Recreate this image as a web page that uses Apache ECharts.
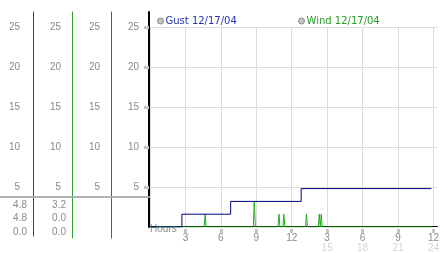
<!DOCTYPE html>
<html><head><meta charset="utf-8">
<script src="https://cdn.jsdelivr.net/npm/echarts@6/dist/echarts.min.js"></script>
<style>html,body{margin:0;padding:0;background:#fff}#c{width:442px;height:253px}</style>
</head><body><div id="c"></div>
<script>
// ---- data ----
const yTicks = [5, 10, 15, 20, 25];
const tickHours = [3, 6, 9, 12, 15, 18, 21, 24];
const tickTop = ['3', '6', '9', '12', '3', '6', '9', '12'];
const tickBottom = ['', '', '', '', '15', '18', '21', '24'];
const gustName = 'Gust 12/17/04';
const windName = 'Wind 12/17/04';
const gustData = [[0, 0], [2.7, 1.6], [6.83, 3.2], [12.8, 4.8], [23.83, 4.8]];
const windData = [[0, 0], [4.58, 0], [4.67, 1.6], [4.75, 0], [8.75, 0], [8.83, 3.2], [8.92, 0],
  [10.83, 0], [10.92, 1.6], [11.0, 0], [11.25, 0], [11.33, 1.6], [11.42, 0],
  [13.17, 0], [13.25, 1.6], [13.33, 0], [14.25, 0], [14.33, 1.6], [14.42, 0], [14.5, 1.6], [14.58, 0],
  [23.83, 0]];
const gustStats = [4.8, 4.8, 0.0];
const windStats = [3.2, 0.0, 0.0];

// ---- layout ----
const LAB = '#8a8a8a';
const FONT = 'Liberation Sans';
const zeroY = 227, pxPerUnit = 8, colTop = 12;
const cols = [
  { x: 33, bottom: 236, color: '#1c3cc0', margin: 13, w: 1 },
  { x: 72, bottom: 238, color: '#2ea02e', margin: 11, w: 1 },
  { x: 111, bottom: 238, color: '#c42a2a', margin: 11, w: 1 },
  { x: 149, bottom: 227, color: '#000000', margin: 10, w: 2 }
];
const grids = [], xAxes = [], yAxes = [];
cols.forEach((c, i) => {
  grids.push({ left: c.x, top: colTop, width: 1, height: c.bottom - colTop });
  xAxes.push({ gridIndex: i, type: 'value', show: false, min: 0, max: 1 });
  yAxes.push({
    gridIndex: i, type: 'value', position: 'left',
    min: -(c.bottom - zeroY) / pxPerUnit, max: (zeroY - colTop) / pxPerUnit,
    axisLine: { show: true, onZero: false, lineStyle: { color: c.color, width: c.w, opacity: 1 } },
    axisTick: i === 3 ? { show: true, customValues: yTicks, length: 5, lineStyle: { color: '#c4c4c4', width: 3 } } : { show: false },
    splitLine: { show: false },
    axisLabel: { customValues: yTicks, margin: c.margin, color: LAB, fontSize: 10, fontFamily: FONT }
  });
});
// main plot
const mainLeft = 150, mainRight = 442;
grids.push({ left: mainLeft, top: 27, width: mainRight - mainLeft, height: 200 });
const xMax = (mainRight - mainLeft) / 12;
xAxes.push({
  gridIndex: 4, type: 'value', min: 0, max: xMax, interval: 3, offset: -1,
  axisLine: { show: true, onZero: false, lineStyle: { color: '#000', width: 1 } },
  axisTick: { show: false }, axisLabel: { show: false },
  splitLine: { show: true, showMaxLine: false, lineStyle: { color: '#dcdcdc', width: 1 } }
});
xAxes.push({
  gridIndex: 4, type: 'value', min: 0, max: xMax, offset: 2, position: 'bottom',
  axisLine: { show: false, onZero: false },
  axisTick: { show: true, customValues: tickHours, length: 4, lineStyle: { color: '#c4c4c4', width: 3 } },
  splitLine: { show: false },
  name: 'Hours', nameLocation: 'start', nameGap: -6,
  nameTextStyle: { align: 'left', verticalAlign: 'middle', color: LAB, fontSize: 10, fontFamily: FONT, padding: [5, 0, 0, 0] },
  axisLabel: {
    customValues: tickHours, margin: 4,
    formatter: v => {
      const i = tickHours.indexOf(v);
      return tickBottom[i] ? '{a|' + tickTop[i] + '}\n{b|' + tickBottom[i] + '}' : '{a|' + tickTop[i] + '}';
    },
    rich: {
      a: { color: LAB, fontSize: 10, lineHeight: 10, fontFamily: FONT },
      b: { color: '#d4d4d4', fontSize: 10, lineHeight: 10, fontFamily: FONT }
    }
  }
});
yAxes.push({
  gridIndex: 4, type: 'value', min: 0, max: 25, interval: 5,
  axisLine: { show: false }, axisTick: { show: false }, axisLabel: { show: false },
  splitLine: { show: true, showMinLine: false, lineStyle: { color: '#dcdcdc', width: 1 } }
});

// stats table
const statRows = [205, 218, 232];
const graphic = [{ type: 'rect', shape: { x: 0, y: 196, width: 150, height: 2 }, style: { fill: '#aaaaaa', opacity: 0.9 }, z: 100 }];
[{ x: 27, vals: gustStats }, { x: 66, vals: windStats }].forEach(col => {
  col.vals.forEach((v, r) => {
    graphic.push({ type: 'text', x: col.x, y: statRows[r], style: { text: v.toFixed(1), align: 'right', verticalAlign: 'middle', fill: LAB, font: '10px "' + FONT + '"' } });
  });
});

const legendBase = (name, left, color) => ({
  left: left, top: 16, itemWidth: 6, itemHeight: 6, padding: 0,
  data: [{ name: name, icon: 'circle', itemStyle: { color: '#c4c4c4', borderColor: '#8c8c8c', borderWidth: 1 }, textStyle: { color: color } }],
  textStyle: { fontFamily: 'DejaVu Sans', fontSize: 10, padding: [0, 0, 0, -3] }
});

const chart = echarts.init(document.getElementById('c'), null, { renderer: 'canvas' });
chart.setOption({
  animation: false,
  backgroundColor: '#fff',
  legend: [legendBase(gustName, 157, '#2633b3'), legendBase(windName, 298, '#249a24')],
  grid: grids, xAxis: xAxes, yAxis: yAxes,
  graphic: graphic,
  series: [
    { name: windName, type: 'line', xAxisIndex: 4, yAxisIndex: 4, data: windData, symbol: 'none', lineStyle: { color: '#22aa22', width: 1 }, itemStyle: { color: '#22aa22' } },
    { name: gustName, type: 'line', xAxisIndex: 4, yAxisIndex: 4, data: gustData, step: 'end', symbol: 'none', lineStyle: { color: '#000080', width: 1 }, itemStyle: { color: '#000080' } }
  ]
});
</script></body></html>
